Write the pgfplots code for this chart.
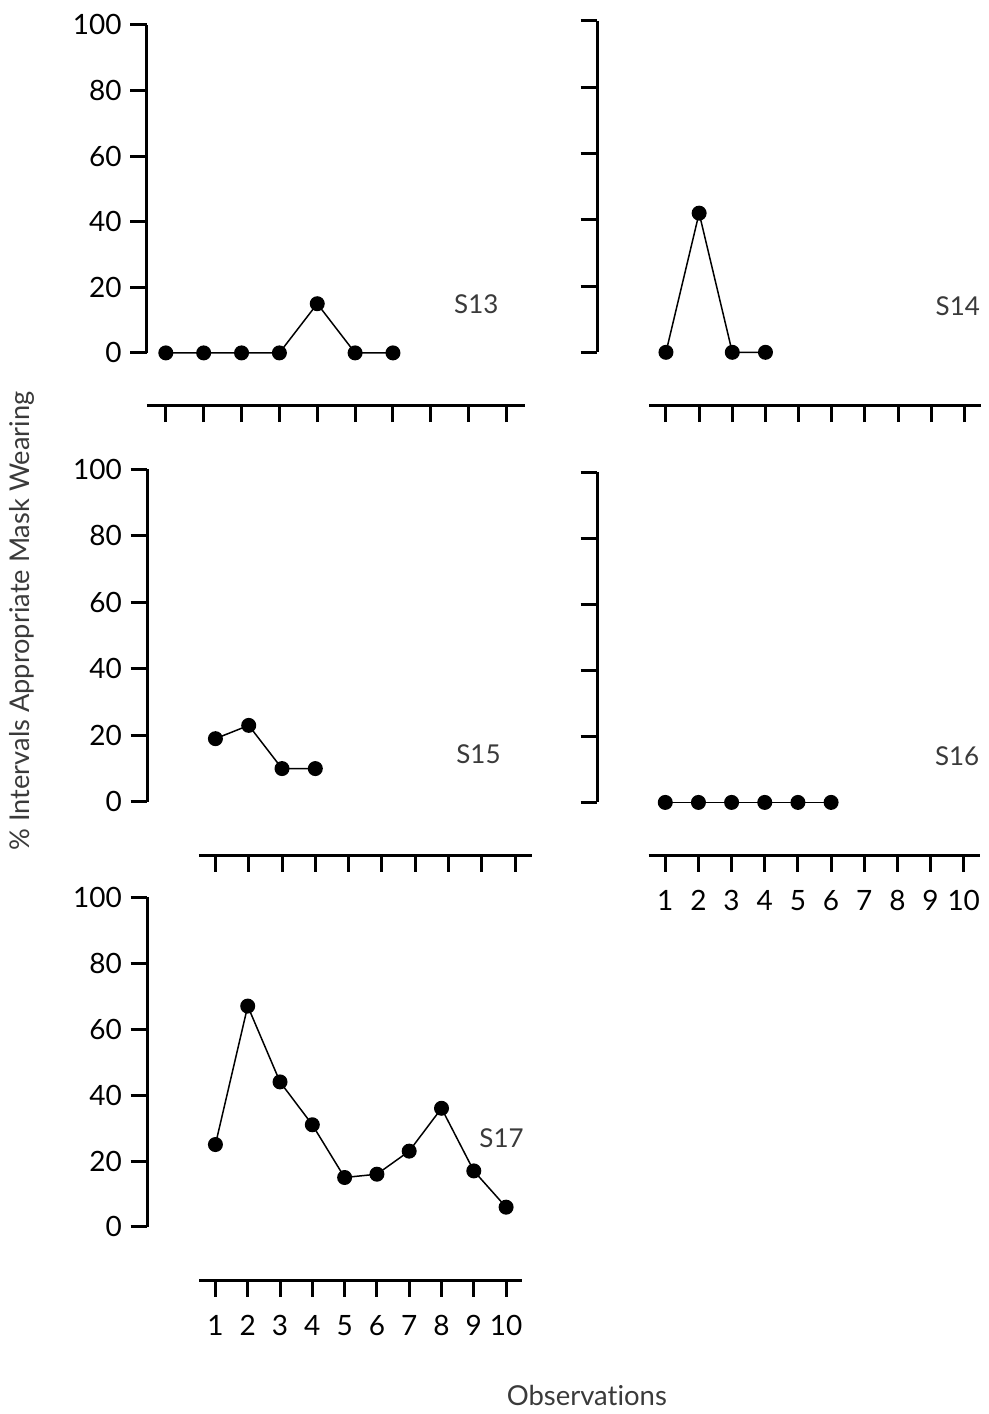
\documentclass[border=0pt]{standalone}
\usepackage{fontspec}
\setmainfont{Lato}[Ligatures=NoCommon]
\usepackage{pgfplots}
\pgfplotsset{compat=1.18}
\definecolor{lblgray}{HTML}{3A3A3A}
\pgfplotsset{
  panel/.style={
    axis lines=left,
    axis line style={-, line width=1.2pt},
    every outer x axis line/.append style={-},
    every outer y axis line/.append style={-},
    xmin=0.5, xmax=10.5, ymin=0, ymax=100,
    xtick={1,...,10}, ytick={0,20,...,100},
    tick align=outside, major tick length=6.6pt,
    tick style={line width=1.2pt, black},
    clip=false, anchor=south west,
    /pgf/number format/assume math mode=true,
    tick label style={font=\fontsize{11.2}{13}\selectfont},
    xticklabel style={yshift=-4pt},
  },
  ser/.style={black, line width=0.6pt, mark=*, mark size=2.7pt, mark options={solid, fill=black}},
}
\newcommand\slab[1]{\fontsize{10.4}{12}\selectfont\color{lblgray}#1}
\begin{document}
\begin{tikzpicture}
\path (0,0) rectangle (395.2pt,-565.6pt);
% S13
\begin{axis}[panel, at={(58.82pt,-141.32pt)}, x=15.16pt, y=1.3132pt,
  axis x line shift=21.08pt, axis y line shift=0pt, xticklabels={}]
\addplot[ser] coordinates {(1,0) (2,0) (3,0) (4,0) (5,15) (6,0) (7,0)};
\node at (axis cs:9.2,15) {\slab{S13}};
\end{axis}
% S14
\begin{axis}[panel, at={(260.04pt,-141.08pt)}, x=13.28pt, y=1.3268pt,
  axis x line shift=21.32pt, axis y line shift=20.96pt, xticklabels={}, yticklabels={}]
\addplot[ser] coordinates {(1,0) (2,42) (3,0) (4,0)};
\node at (axis cs:9.8,14) {\slab{S14}};
\end{axis}
% S15
\begin{axis}[panel, at={(79.6pt,-321.08pt)}, x=13.333pt, y=1.3308pt,
  axis x line shift=21.32pt, axis y line shift=20.68pt, xticklabels={}]
\addplot[ser] coordinates {(1,19) (2,23) (3,10) (4,10)};
\node at (axis cs:8.9,14.3) {\slab{S15}};
\end{axis}
% S16
\begin{axis}[panel, at={(259.76pt,-321.32pt)}, x=13.28pt, y=1.3228pt,
  axis x line shift=21.08pt, axis y line shift=20.68pt, yticklabels={}]
\addplot[ser] coordinates {(1,0) (2,0) (3,0) (4,0) (5,0) (6,0)};
\node at (axis cs:9.8,14) {\slab{S16}};
\end{axis}
% S17
\begin{axis}[panel, at={(79.8pt,-491.32pt)}, x=12.933pt, y=1.32pt,
  axis x line shift=21.36pt, axis y line shift=20.88pt]
\addplot[ser] coordinates {(1,25) (2,67) (3,44) (4,31) (5,15) (6,16) (7,23) (8,36) (9,17) (10,6)};
\node at (axis cs:9.86,26.8) {\slab{S17}};
\end{axis}
\node[rotate=90, font=\fontsize{10.9}{12}\selectfont, text=lblgray] at (8.8pt,-248.7pt) {\% Intervals Appropriate Mask Wearing};
\node[font=\fontsize{11}{13}\selectfont, text=lblgray] at (235pt,-558.8pt) {Observations};
\end{tikzpicture}
\end{document}
